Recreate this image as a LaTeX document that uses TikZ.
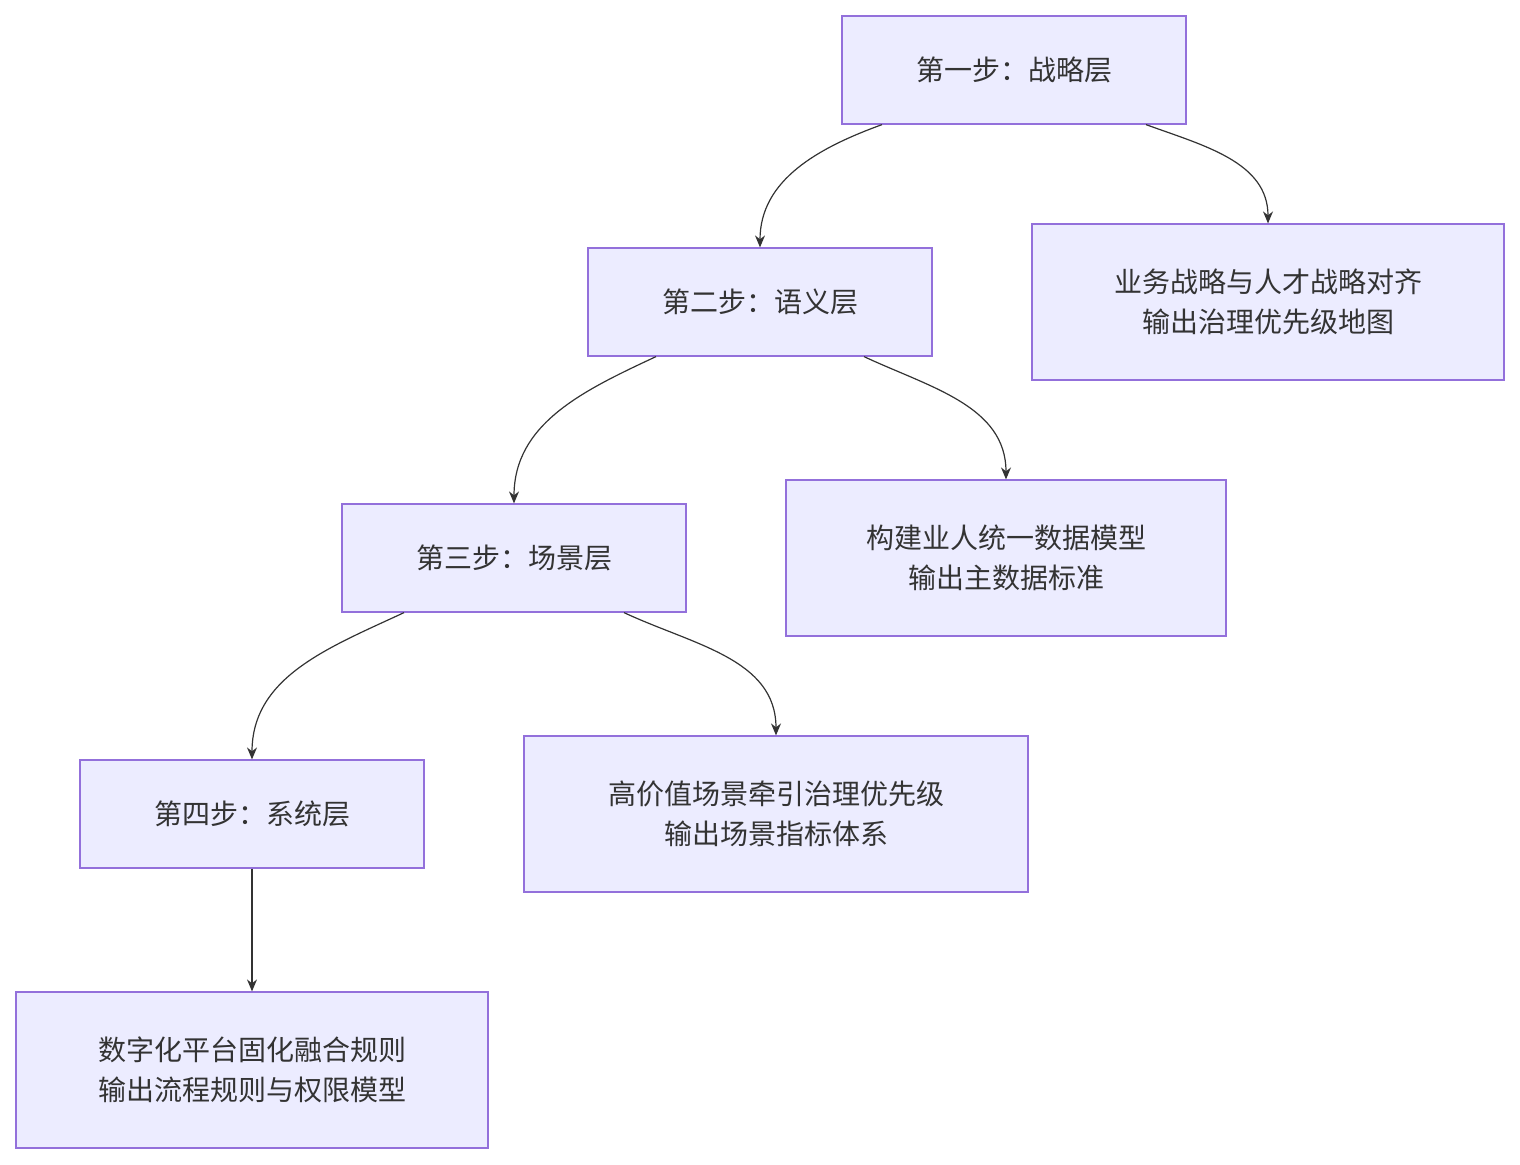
\documentclass[tikz,border=0pt]{standalone}
\usepackage{fontspec}
\setmainfont{Noto Sans CJK SC}
\usetikzlibrary{positioning, arrows.meta, calc}

\definecolor{boxfill}{HTML}{ECECFF}
\definecolor{boxline}{HTML}{9370DB}
\definecolor{ink}{HTML}{333333}

\tikzset{
    layer/.style={rectangle, draw=boxline, fill=boxfill, line width=0.6pt, text=ink,
        minimum width=172pt, minimum height=54pt, font=\fontsize{14}{20}\selectfont},
    result/.style={layer, minimum height=78pt, align=center},
    link/.style={draw=ink, line width=0.6pt, -{Stealth[length=6pt,width=5pt]}}
}

\begin{document}
\begin{tikzpicture}[x=0.5pt, y=-0.5pt]
    \useasboundingbox (0,0) rectangle (1520,1164);

    \node[layer] (s1) at (1014,70) {第一步：战略层};
    \node[result, minimum width=236pt] (o1) at (1268,302) {业务战略与人才战略对齐\\输出治理优先级地图};
    \node[layer] (s2) at (760,302) {第二步：语义层};
    \node[result, minimum width=220pt] (o2) at (1006,558) {构建业人统一数据模型\\输出主数据标准};
    \node[layer] (s3) at (514,558) {第三步：场景层};
    \node[result, minimum width=252pt] (o3) at (776,814) {高价值场景牵引治理优先级\\输出场景指标体系};
    \node[layer] (s4) at (252,814) {第四步：系统层};
    \node[result, minimum width=236pt] (o4) at (252,1070) {数字化平台固化融合规则\\输出流程规则与权限模型};

    \path[link] ($(s1.south)+(-132,0)$) to[out=200, in=90] (s2.north);
    \path[link] ($(s1.south)+(132,0)$) to[out=-20, in=90] (o1.north);
    \path[link] ($(s2.south)+(-104,0)$) to[out=205, in=90] (s3.north);
    \path[link] ($(s2.south)+(104,0)$) to[out=-25, in=90] (o2.north);
    \path[link] ($(s3.south)+(-110,0)$) to[out=205, in=90] (s4.north);
    \path[link] ($(s3.south)+(110,0)$) to[out=-25, in=90] (o3.north);
    \path[link] (s4) -- (o4);
\end{tikzpicture}
\end{document}
